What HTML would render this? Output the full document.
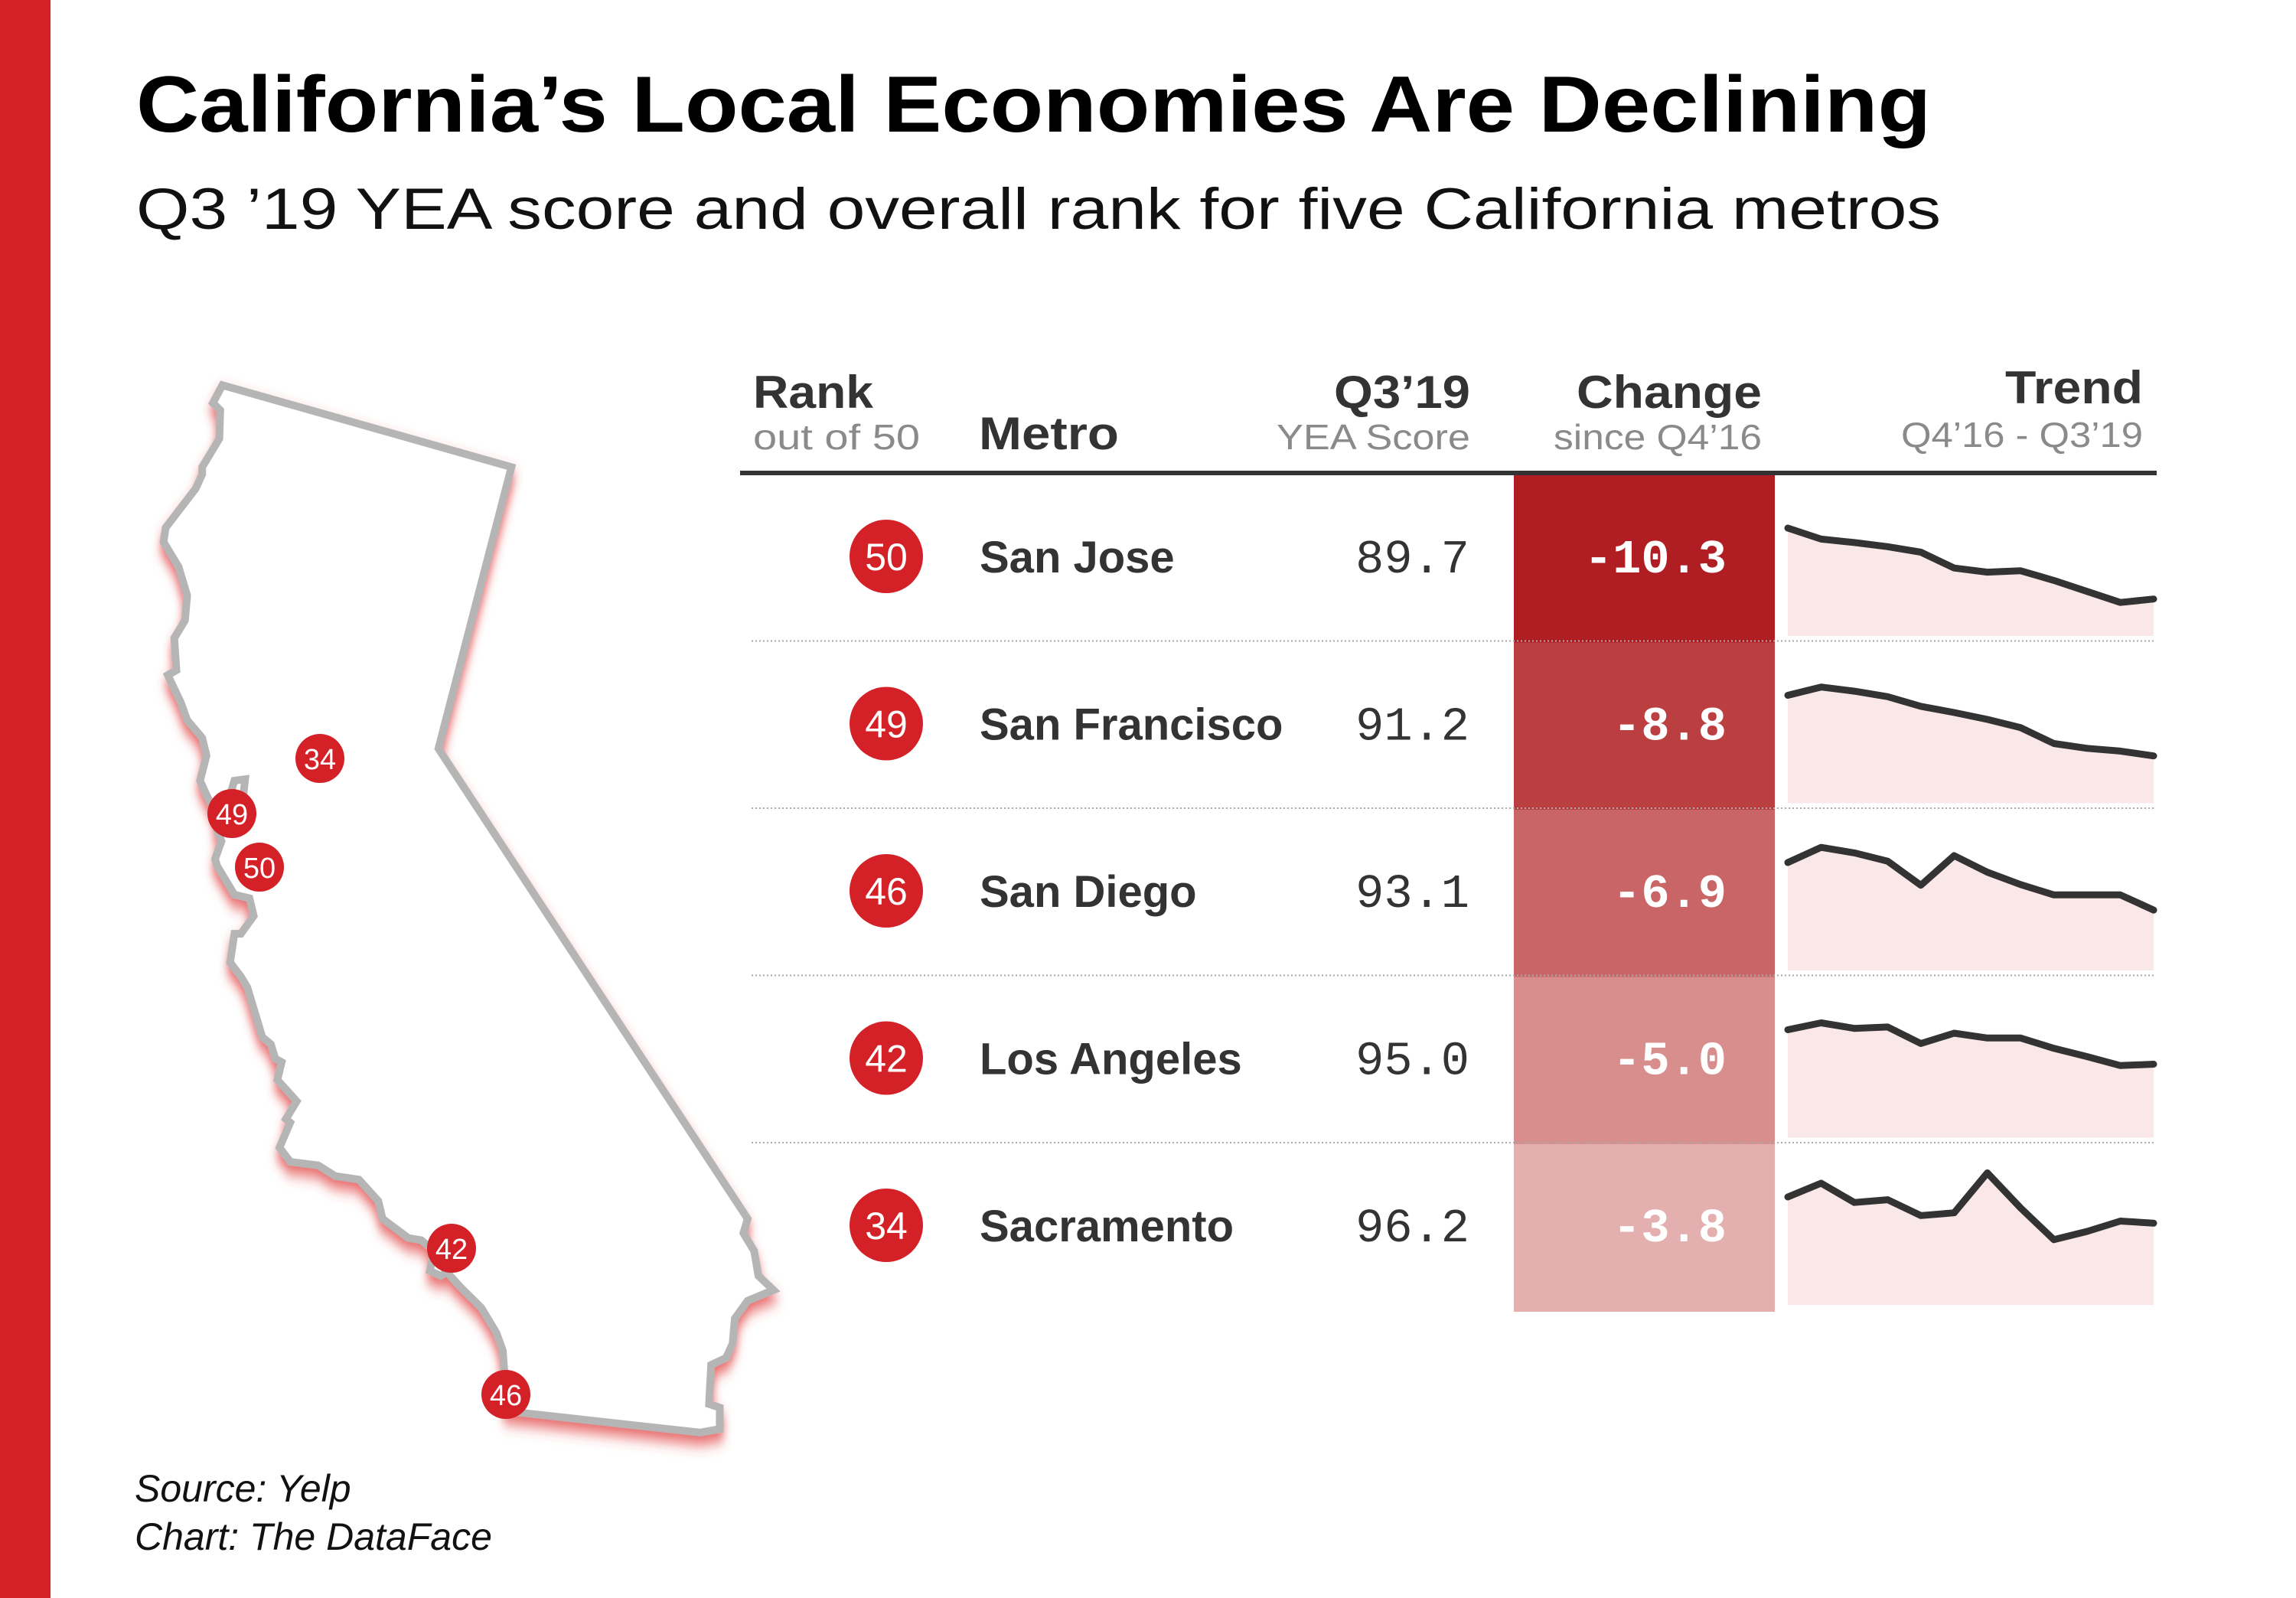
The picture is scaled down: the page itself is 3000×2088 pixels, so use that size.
<!DOCTYPE html>
<html><head><meta charset="utf-8"><style>
html,body{margin:0;padding:0;background:#fff}
svg{display:block}
text{font-family:"Liberation Sans",sans-serif}
.mono{font-family:"Liberation Mono",monospace}
</style></head><body>
<svg id="chart" width="3000" height="2088" viewBox="0 0 3000 2088" xmlns="http://www.w3.org/2000/svg">
<defs>
<filter id="glow" x="-20%" y="-20%" width="140%" height="140%">
<feDropShadow dx="0" dy="12" stdDeviation="10" flood-color="#e03a3a" flood-opacity="0.75"/>
</filter>
</defs>
<rect x="0" y="0" width="66" height="2088" fill="#d42127"/>
<text x="178" y="172" font-size="104" font-weight="bold" fill="#000" textLength="2345" lengthAdjust="spacingAndGlyphs">California’s Local Economies Are Declining</text>
<text x="178" y="299" font-size="76" fill="#111" textLength="2358" lengthAdjust="spacingAndGlyphs">Q3 ’19 YEA score and overall rank for five California metros</text>

<g>
<g transform="translate(180,480) scale(0.5612,0.931)">
<path filter="url(#glow)" fill="#fff" stroke="#b5b5b5" stroke-width="10" vector-effect="non-scaling-stroke" stroke-linejoin="miter"
d="M197,25 L870,140 L700,535 L1420,1195 L1410,1215 L1435,1240 L1445,1275 L1480,1295 L1420,1310 L1390,1335 L1385,1370 L1370,1390 L1335,1400 L1330,1455 L1355,1460 L1355,1490 L1310,1495 L860,1465 L850,1380 L835,1355 L800,1320 L750,1290 L720,1270 L705,1275 L680,1268 L690,1240 L660,1225 L630,1222 L570,1195 L560,1170 L515,1140 L460,1135 L420,1120 L355,1115 L330,1095 L355,1060 L345,1055 L370,1030 L325,1000 L335,975 L320,970 L310,950 L290,940 L280,920 L255,870 L240,855 L215,835 L225,795 L240,795 L270,770 L260,745 L225,740 L205,720 L185,700 L180,690 L195,665 L185,650 L185,630 L160,600 L145,580 L160,545 L150,520 L115,495 L100,470 L70,432 L90,425 L85,380 L110,355 L115,320 L95,280 L60,245 L65,225 L135,170 L150,150 L150,140 L190,100 L192,60 L175,50 Z"/>
<path d="M215,600 L225,580 L250,578 L245,605" fill="none" stroke="#b5b5b5" stroke-width="10" vector-effect="non-scaling-stroke"/>
</g>
</g>
<g id="mapMarkers"></g>

<g fill="#333">
<text x="984" y="533" font-size="60" font-weight="bold" textLength="157" lengthAdjust="spacingAndGlyphs">Rank</text>
<text x="984" y="587" font-size="46" fill="#8a8a8a" textLength="218" lengthAdjust="spacingAndGlyphs">out of 50</text>
<text x="1279" y="587" font-size="60" font-weight="bold" textLength="183" lengthAdjust="spacingAndGlyphs">Metro</text>
<text x="1921" y="533" font-size="60" font-weight="bold" text-anchor="end" textLength="178" lengthAdjust="spacingAndGlyphs">Q3’19</text>
<text x="1921" y="587" font-size="46" fill="#8a8a8a" text-anchor="end" textLength="253" lengthAdjust="spacingAndGlyphs">YEA Score</text>
<text x="2302" y="533" font-size="60" font-weight="bold" text-anchor="end" textLength="242" lengthAdjust="spacingAndGlyphs">Change</text>
<text x="2302" y="587" font-size="46" fill="#8a8a8a" text-anchor="end" textLength="272" lengthAdjust="spacingAndGlyphs">since Q4’16</text>
<text x="2800" y="527" font-size="60" font-weight="bold" text-anchor="end" textLength="180" lengthAdjust="spacingAndGlyphs">Trend</text>
<text x="2800" y="584" font-size="46" fill="#8a8a8a" text-anchor="end" textLength="316" lengthAdjust="spacingAndGlyphs">Q4’16 - Q3’19</text>
</g>
<g id="rows"></g>
<rect x="967" y="615" width="1851" height="6" fill="#333"/>

<text x="176" y="1962" font-size="50" font-style="italic" fill="#111">Source: Yelp</text>
<text x="176" y="2025" font-size="50" font-style="italic" fill="#111">Chart: The DataFace</text>
</svg>
<script>
const metros = ["San Jose","San Francisco","San Diego","Los Angeles","Sacramento"];
const ranks = [50,49,46,42,34];
const scores = ["89.7","91.2","93.1","95.0","96.2"];
const changes = [-10.3,-8.8,-6.9,-5.0,-3.8];
const changeColors = ["#b01e24","#bb3e40","#c96566","#d98e8e","#e3afaf"];
const trendSJ = [100,98.4,97.9,97.3,96.5,94.2,93.6,93.8,92.4,90.8,89.2,89.7];
const trendSF = [100,101.2,100.6,99.8,98.4,97.5,96.5,95.3,93.0,92.3,91.9,91.2];
const trendSD = [100,102.2,101.4,100.2,96.7,101.0,98.6,96.8,95.3,95.3,95.3,93.1];
const trendLA = [100,101.0,100.2,100.4,98.0,99.5,98.8,98.8,97.3,96.1,94.8,95.0];
const trendSAC = [100,102.0,99.2,99.6,97.3,97.7,103.5,98.4,93.8,95.0,96.5,96.2];
const trends = [trendSJ,trendSF,trendSD,trendLA,trendSAC];
const mapRanks = [34,49,50,42,46];

const NS="http://www.w3.org/2000/svg";
function mk(tag, attrs, parent){const e=document.createElementNS(NS,tag);for(const k in attrs)e.setAttribute(k,attrs[k]);parent.appendChild(e);return e;}

const markerX=[418,303,339,590,661], markerY=[991,1063,1133,1631,1822];
const markers=document.getElementById('mapMarkers');
mapRanks.forEach((r,i)=>{
  const fx=markerX[i], fy=markerY[i];
  const g=mk('g',{},markers);
  
  
  const c=mk('circle',{cx:fx,cy:fy,r:32,fill:'#d42127'},g);
  
  
  const t=mk('text',{x:fx,y:fy+14,'font-size':38,fill:'#fff','text-anchor':'middle'},g);
  
  
  t.textContent=r;
});

const rowsG=document.getElementById('rows');
const rowTop0=621, rowH=218.5;
const sxL=2336, sxR=2814;
function sparkX(i,n){return sxL+(sxR-sxL)*i/(n-1);}
function sparkY(v,top){return top+69+(100-v)*9;}
metros.forEach((m,i)=>{
  const top=rowTop0+i*rowH, cy=top+106;
  const g=mk('g',{},rowsG);
  
  
  const cell=mk('rect',{x:1978,y:top,width:341,height:rowH+0.5,fill:changeColors[i]},g);
  
  
  if(i<4){
    const dl=mk('line',{x1:982,x2:2817,y1:top+rowH-2,y2:top+rowH-2,stroke:'#aaa','stroke-width':2,'stroke-dasharray':'2 3'},g);
    
    
  }
  const rc=mk('circle',{cx:1158,cy:cy,r:48,fill:'#d42127'},g);
  
  
  const rt=mk('text',{x:1158,y:cy+18,'font-size':50,fill:'#fff','text-anchor':'middle'},g);
  
  
  rt.textContent=ranks[i];
  const mt=mk('text',{x:1280,y:cy+21,'font-size':58,'font-weight':'bold',fill:'#333'},g);
  
  
  mt.textContent=m;
  const st=mk('text',{x:1920,y:cy+21,'font-size':62,fill:'#333','text-anchor':'end','class':'mono'},g);
  
  
  st.textContent=scores[i];
  const ct=mk('text',{x:2256,y:cy+21,'font-size':62,'font-weight':'bold',fill:'#fff','text-anchor':'end','class':'mono'},g);
  
  
  ct.textContent=changes[i].toFixed(1);
  const vals=trends[i], n=vals.length;
  let pts=vals.map((v,j)=>sparkX(j,n).toFixed(1)+','+sparkY(v,top).toFixed(1));
  const area=mk('path',{d:'M'+sxL+','+(top+210)+' L'+pts.join(' L')+' L'+sxR+','+(top+210)+' Z',fill:'#fae8e8'},g);
  
  
  const line=mk('path',{d:'M'+pts.join(' L'),fill:'none',stroke:'#333','stroke-width':9,'stroke-linejoin':'round','stroke-linecap':'round'},g);
  
  
});
</script>
</body></html>
